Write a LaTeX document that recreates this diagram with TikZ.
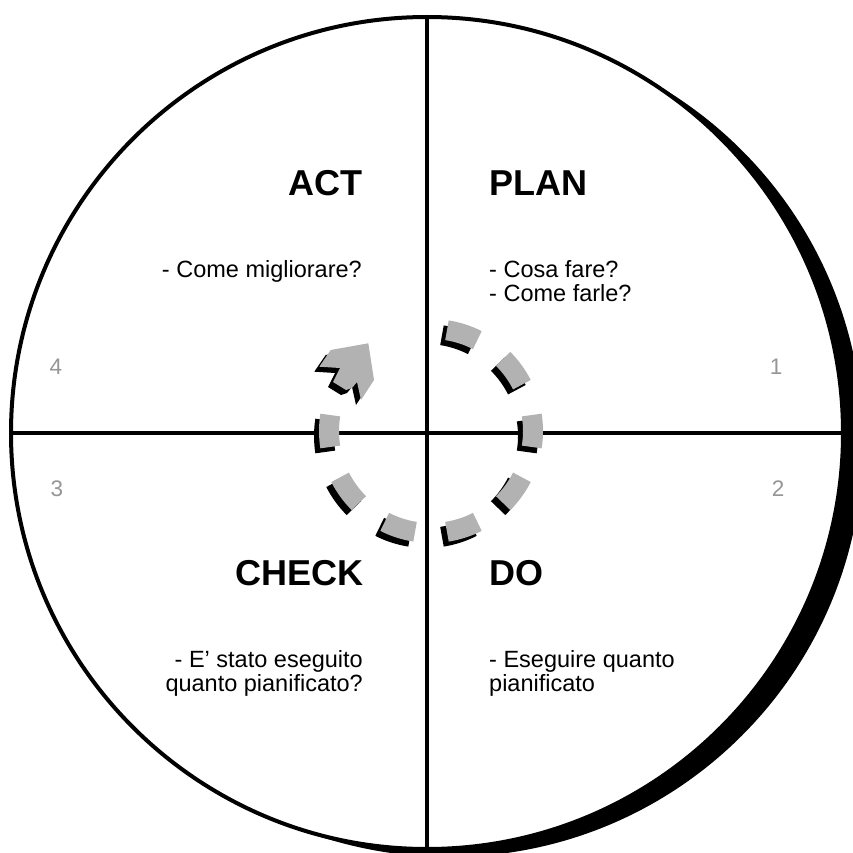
\documentclass[tikz,border=0pt]{standalone}
\usepackage{fontspec}
\setmainfont{Liberation Sans}
\usetikzlibrary{calc}
\definecolor{dashgray}{RGB}{178,178,178}
\definecolor{numgray}{RGB}{150,150,150}
\begin{document}
\begin{tikzpicture}[x=1pt,y=-1pt,
  title/.style={font=\fontsize{36}{40}\selectfont\bfseries, inner sep=0pt},
  body/.style={font=\fontsize{23.5}{26}\selectfont, inner sep=0pt},
  num/.style={font=\fontsize{22.5}{26}\selectfont, text=numgray, inner sep=0pt},
  piece/.style={line width=20pt, draw=dashgray},
  pieceshadow/.style={line width=20pt, draw=black},
  axis/.style={line width=3.5pt, draw=black}]
\useasboundingbox (0,0) rectangle (852,853);
% big circle with shadow
\coordinate (O) at (427,433);
\coordinate (S) at (449,443);
\fill[black] (S) circle[radius=414];
\filldraw[fill=white, draw=black, line width=4pt] (O) circle[radius=416];
% cross
\coordinate (T) at (427,17);
\coordinate (B) at (427,849);
\coordinate (L) at (11,433);
\coordinate (R) at (843,433);
\draw[axis] (T) -- (B);
\draw[axis] (L) -- (R);
% dashed cycle
\coordinate (C) at (431,431);
\coordinate (Cs) at (426,436);
\foreach \t in {-72,-36,0,36,72,108,144,180} {
  \draw[pieceshadow] (Cs) ++({\t-9}:102) arc[start angle={\t-9}, end angle={\t+9}, radius=102];
}
\foreach \t in {-72,-36,0,36,72,108,144,180} {
  \draw[piece] (C) ++({\t-9}:102) arc[start angle={\t-9}, end angle={\t+9}, radius=102];
}
% arrow head
\fill[black, shift={(-5,5)}] (330.7,350) -- (368.3,343.3) -- (374,380) -- (361,400) -- (357,382) -- (352,388) -- (346,390) -- (333,382) -- (340,368) -- (319.3,366.7) -- cycle;
\fill[dashgray] (330.7,350) -- (368.3,343.3) -- (374,380) -- (361,400) -- (357,382) -- (352,388) -- (346,390) -- (333,382) -- (340,368) -- (319.3,366.7) -- cycle;
% titles
\node[title, anchor=base east] (act) at (363,196) {ACT};
\node[title, anchor=base west] (plan) at (489,196) {PLAN};
\node[title, anchor=base east] (check) at (364,585) {CHECK};
\node[title, anchor=base west] (do) at (489,585) {DO};
% texts
\node[body, anchor=base east] (act1) at (362,277) {- Come migliorare?};
\node[body, anchor=base west] (plan1) at (489,277) {- Cosa fare?};
\node[body, anchor=base west] (plan2) at (489,301) {- Come farle?};
\node[body, anchor=base east] (check1) at (363,667) {- E’ stato eseguito};
\node[body, anchor=base east] (check2) at (363,691) {quanto pianificato?};
\node[body, anchor=base west] (do1) at (489,667) {- Eseguire quanto};
\node[body, anchor=base west] (do2) at (489,691) {pianificato};
% numbers
\node[num, anchor=base] (n4) at (56,374) {4};
\node[num, anchor=base] (n1) at (776,374) {1};
\node[num, anchor=base] (n3) at (57,496) {3};
\node[num, anchor=base] (n2) at (778,496) {2};
\end{tikzpicture}
\end{document}
